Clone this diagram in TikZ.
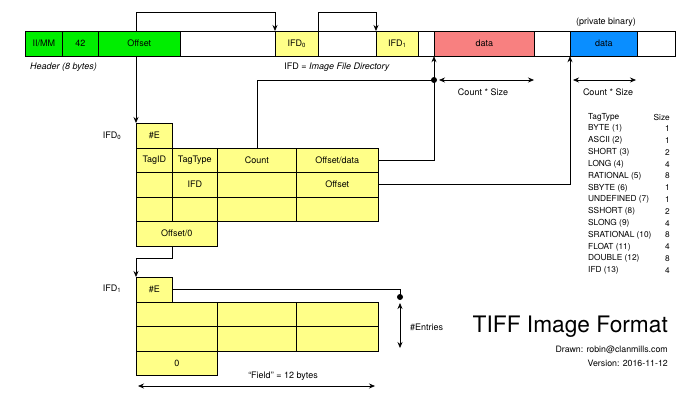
\documentclass[tikz,border=0pt]{standalone}
\usepackage{fontspec}
\setmainfont{TeX Gyre Heros}
\usepackage{xcolor}
\usetikzlibrary{calc, arrows.meta, positioning}

\definecolor{hdrgreen}{HTML}{00EE00}
\definecolor{ifdyellow}{HTML}{FFFF88}
\definecolor{datared}{HTML}{F88080}
\definecolor{privblue}{HTML}{0A8EFF}

\tikzset{
  cell/.style={draw, line width=0.7pt, inner sep=0pt, anchor=north west,
    minimum height=24.5pt, font=\fontsize{9}{10}\selectfont},
  ycell/.style={cell, fill=ifdyellow},
  link/.style={line width=0.7pt},
  lbl/.style={font=\fontsize{9}{10}\selectfont, inner sep=1pt},
  tt/.style={font=\fontsize{8.3}{9}\selectfont, inner sep=0pt}
}

\begin{document}
\begin{tikzpicture}[x=1pt, y=-1pt, >={Stealth[length=6pt,width=5pt]}]

    \useasboundingbox (0,0) rectangle (700,400);

    % =================================================================
    % 1. THANH FILE TIFF PHIA TREN
    % =================================================================
    \node[cell, fill=hdrgreen, minimum width=37pt] (mm) at (25,31) {II/MM};
    \node[cell, fill=hdrgreen, minimum width=36pt] (ft) at (62,31) {42};
    \node[cell, fill=hdrgreen, minimum width=82pt] (off) at (98,31) {Offset};
    \node[cell, fill=white, minimum width=95pt] (gapa) at (180,31) {};
    \node[ycell, minimum width=43pt] (bifd0) at (275,31) {IFD\textsubscript{0}};
    \node[cell, fill=white, minimum width=58pt] (gapb) at (318,31) {};
    \node[ycell, minimum width=42pt] (bifd1) at (376,31) {IFD\textsubscript{1}};
    \node[cell, fill=white, minimum width=16pt] (gapc) at (418,31) {};
    \node[cell, fill=datared, minimum width=100pt] (data) at (434,31) {data};
    \node[cell, fill=white, minimum width=36pt] (gapd) at (534,31) {};
    \node[cell, fill=privblue, minimum width=67pt] (priv) at (570,31) {data};
    \node[cell, fill=white, minimum width=38pt] (gape) at (637,31) {};

    \node[lbl, anchor=west] (hdr) at (29,67) {\itshape Header (8 bytes)};
    \node[lbl] (ifdnote) at (337,67) {IFD = \textit{Image File Directory}};
    \node[lbl] (privnote) at (606,22) {(private binary)};

    % =================================================================
    % 2. BANG IFD0
    % =================================================================
    \node[lbl] (lifd0) at (112,135.5) {IFD\textsubscript{0}};
    \node[ycell, minimum width=36pt] (ne0) at (136,123) {\#E};
    \node[ycell, minimum width=36pt] (tid) at (136,147.5) {TagID};
    \node[ycell, minimum width=45pt] (ttp) at (172,147.5) {TagType};
    \node[ycell, minimum width=79pt] (cnt) at (217,147.5) {Count};
    \node[ycell, minimum width=82pt] (od) at (296,147.5) {Offset/data};
    \node[ycell, minimum width=36pt] (r2a) at (136,172) {};
    \node[ycell, minimum width=45pt] (r2b) at (172,172) {IFD};
    \node[ycell, minimum width=79pt] (r2c) at (217,172) {};
    \node[ycell, minimum width=82pt] (ofs) at (296,172) {Offset};
    \node[ycell, minimum width=36pt] (r3a) at (136,196.5) {};
    \node[ycell, minimum width=45pt] (r3b) at (172,196.5) {};
    \node[ycell, minimum width=79pt] (r3c) at (217,196.5) {};
    \node[ycell, minimum width=82pt] (r3d) at (296,196.5) {};
    \node[ycell, minimum width=81pt] (o0) at (136,221) {Offset/0};

    % =================================================================
    % 3. BANG IFD1
    % =================================================================
    \node[lbl] (lifd1) at (112,289) {IFD\textsubscript{1}};
    \node[ycell, minimum width=36pt] (ne1) at (136,277) {\#E};
    \node[ycell, minimum width=81pt] (s1a) at (136,301.5) {};
    \node[ycell, minimum width=79pt] (s1b) at (217,301.5) {};
    \node[ycell, minimum width=82pt] (s1c) at (296,301.5) {};
    \node[ycell, minimum width=81pt] (s2a) at (136,326) {};
    \node[ycell, minimum width=79pt] (s2b) at (217,326) {};
    \node[ycell, minimum width=82pt] (s2c) at (296,326) {};
    \node[ycell, minimum width=81pt] (z0) at (136,350.5) {0};

    % =================================================================
    % 4. CAC DUONG NOI
    % =================================================================
    \coordinate (topy) at (0,12);
    \coordinate (j0) at (434,80);
    \coordinate (j1) at (400,297);

    % Offset -> IFD0 trong file, va -> bang IFD0
    \draw[link, ->] (ne0.north west |- off.north) |- (topy -| bifd0.north west)
        -- (bifd0.north west);
    \draw[link, ->] (ne0.north west |- off.south) -- (ne0.north west);
    % IFD0 -> IFD1 trong file
    \draw[link, ->] (bifd0.north east) |- (topy -| bifd1.north west)
        -- (bifd1.north west);

    % Count, Offset/data -> data
    \draw[link] (cnt.north) |- (j0);
    \fill (j0) circle (3pt);
    \draw[link, ->] (od.east) -| (data.south west);
    \draw[link, ->] (ofs.east) -| (priv.south west);

    % Offset/0 -> IFD1
    \draw[link, ->] (o0.south -| tid.east) -- ++(0,12) -| (ne1.north west);

    % #E -> #Entries
    \draw[link] (ne1.east) -| (j1);
    \fill (j1) circle (3pt);

    % =================================================================
    % 5. MUI TEN KICH THUOC
    % =================================================================
    \coordinate (cs1a) at (439,80);
    \coordinate (cs1b) at (534,80);
    \coordinate (cs2a) at (573,80);
    \coordinate (cs2b) at (636,80);
    \coordinate (ena) at (400,303);
    \coordinate (enb) at (400,348);
    \coordinate (fla) at (138,386);
    \coordinate (flb) at (375,386);

    \draw[link, <->] (cs1a) -- (cs1b);
    \node[lbl] (cs1) at (483,92) {Count * Size};
    \draw[link, <->] (cs2a) -- (cs2b);
    \node[lbl] (cs2) at (608,92) {Count * Size};
    \draw[link, <->] (ena) -- (enb);
    \node[lbl, anchor=west] (nent) at (409,327) {\#Entries};
    \draw[link, <->] (fla) -- (flb);
    \node[lbl] (fld) at (283,376) {``Field'' = 12 bytes};

    % =================================================================
    % 6. BANG TAGTYPE VA TIEU DE
    % =================================================================
    \node[tt, anchor=west] (tnh) at (588,117) {TagType};
    \node[tt, anchor=east] (tsh) at (670,117) {Size};
    \foreach \tname/\tsize [count=\i] in {BYTE (1)/1, ASCII (2)/1, SHORT (3)/2,
        LONG (4)/4, RATIONAL (5)/8, SBYTE (6)/1, UNDEFINED (7)/1, SSHORT (8)/2,
        SLONG (9)/4, SRATIONAL (10)/8, FLOAT (11)/4, DOUBLE (12)/8, IFD (13)/4}
    {
        \node[tt, anchor=west] (tn\i) at (588,117+11.8*\i) {\tname};
        \node[tt, anchor=east] (ts\i) at (670,117+11.8*\i) {\tsize};
    }

    \node[anchor=east, inner sep=0pt, font=\fontsize{22.7}{24}\selectfont]
        (title) at (668,327) {TIFF Image Format};
    \node[anchor=east, inner sep=0pt, font=\fontsize{8.8}{10}\selectfont]
        (drawn) at (668,350) {Drawn: robin@clanmills.com};
    \node[anchor=east, inner sep=0pt, font=\fontsize{8.8}{10}\selectfont]
        (ver) at (668,363) {Version: 2016-11-12};

\end{tikzpicture}
\end{document}
